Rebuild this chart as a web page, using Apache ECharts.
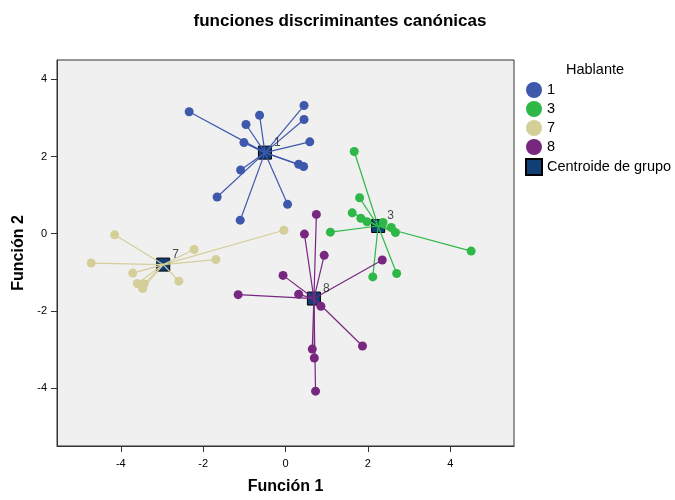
<!DOCTYPE html>
<html><head><meta charset="utf-8">
<script src="https://cdn.jsdelivr.net/npm/echarts@6/dist/echarts.min.js"></script>
<style>html,body{margin:0;padding:0;background:#fff}#c{width:675px;height:500px}</style>
</head><body><div id="c"></div>
<script>
const groupNames = ['1', '3', '7', '8'];
const groupColors = ['#3E58AC', '#2EB848', '#D4CE98', '#782780'];
const centroids = [[-0.50, 2.10], [2.25, 0.20], [-2.97, -0.80], [0.69, -1.68]];
const pts1 = [[-2.34,3.16],[-0.63,3.07],[-0.96,2.83],[0.45,3.32],[0.45,2.96],[-1.01,2.36],[0.59,2.38],[0.32,1.80],[0.44,1.74],[-1.09,1.65],[-1.66,0.95],[0.05,0.76],[-1.10,0.35]];
const pts3 = [[1.67,2.13],[1.80,0.93],[1.62,0.54],[1.83,0.40],[1.98,0.31],[2.37,0.29],[2.57,0.16],[2.67,0.03],[1.09,0.04],[4.51,-0.45],[2.12,-1.12],[2.70,-1.03]];
const pts7 = [[-4.15,-0.03],[-4.72,-0.76],[-2.22,-0.41],[-1.69,-0.67],[-0.04,0.09],[-3.71,-1.02],[-3.60,-1.29],[-3.43,-1.30],[-3.47,-1.42],[-2.59,-1.23]];
const pts8 = [[0.75,0.50],[0.46,-0.01],[0.94,-0.56],[2.35,-0.68],[-0.06,-1.08],[-1.15,-1.58],[0.32,-1.57],[0.86,-1.88],[1.87,-2.91],[0.65,-2.99],[0.70,-3.22],[0.73,-4.08]];
const groupPoints = [pts1, pts3, pts7, pts8];
const xTicks = [-4, -2, 0, 2, 4];
const yTicks = [-4, -2, 0, 2, 4];
const xRange = [-5.55, 5.55];
const yRange = [-5.5, 4.5];
const centroidName = 'Centroide de grupo';

const font = 'Liberation Sans, Arial, sans-serif';
const series = [];
series.push({
  name: centroidName, type: 'scatter', symbol: 'rect', symbolSize: 13, z: 2,
  itemStyle: { color: '#0F3F75', borderColor: '#000', borderWidth: 1, opacity: 1 },
  data: centroids.map((c, i) => [c[0], c[1], groupNames[i]])
});
groupPoints.forEach((pts, i) => {
  series.push({
    name: 'l' + groupNames[i], type: 'lines', coordinateSystem: 'cartesian2d', z: 3, silent: true,
    lineStyle: { color: groupColors[i], width: 1.2, opacity: 1, curveness: 0 },
    data: pts.map(p => ({ coords: [p, centroids[i]] }))
  });
});
groupPoints.forEach((pts, i) => {
  series.push({
    name: groupNames[i], type: 'scatter', symbol: 'circle', symbolSize: 9, z: 4,
    itemStyle: { color: groupColors[i], opacity: 1 },
    data: pts
  });
});
series.push({
  name: 'labels', type: 'scatter', symbolSize: 2, z: 5, silent: true,
  itemStyle: { color: 'rgba(0,0,0,0)' },
  data: centroids.map((c, i) => [c[0], c[1], groupNames[i]]),
  label: { show: true, position: [10, -15], formatter: p => p.data[2],
    color: '#222', fontSize: 12, fontFamily: font },
  labelLayout: { hideOverlap: false }
});

const chart = echarts.init(document.getElementById('c'), null, { renderer: 'canvas' });
chart.setOption({
  animation: false,
  backgroundColor: '#fff',
  title: { text: 'funciones discriminantes canónicas', left: 335, textAlign: 'center', top: 8,
    textStyle: { fontSize: 17, fontWeight: 'bold', color: '#000', fontFamily: font } },
  graphic: [{ type: 'text', left: 566, top: 62, style: { text: 'Hablante', fontSize: 14.5, fill: '#000', font: '14.5px ' + font } }],
  legend: {
    orient: 'vertical', left: 525, top: 82, itemWidth: 16, itemHeight: 16, itemGap: 3, padding: 0,
    data: [
      { name: '1', icon: 'circle' }, { name: '3', icon: 'circle' }, { name: '7', icon: 'circle' }, { name: '8', icon: 'circle' },
      { name: centroidName, icon: 'rect' }
    ],
    textStyle: { fontSize: 14.5, color: '#000', fontFamily: font }
  },
  grid: { left: 57, right: 161, top: 60, bottom: 54, show: true, backgroundColor: '#F0F0F0', borderColor: '#333', borderWidth: 1, outerBoundsMode: 'none' },
  xAxis: {
    type: 'value', min: xRange[0], max: xRange[1],
    name: 'Función 1', nameLocation: 'middle', nameGap: 33,
    nameTextStyle: { fontSize: 16, fontWeight: 'bold', color: '#000', fontFamily: font },
    axisLine: { show: true, onZero: false, lineStyle: { color: '#333', width: 1 } },
    axisTick: { show: true, length: 6, lineStyle: { color: '#333' }, customValues: xTicks },
    axisLabel: { customValues: xTicks, margin: 12, fontSize: 11, color: '#000', fontFamily: font },
    splitLine: { show: false }
  },
  yAxis: {
    type: 'value', min: yRange[0], max: yRange[1],
    name: 'Función 2', nameLocation: 'middle', nameGap: 29, nameRotate: 90,
    nameTextStyle: { fontSize: 16, fontWeight: 'bold', color: '#000', fontFamily: font },
    axisLine: { show: true, onZero: false, lineStyle: { color: '#333', width: 1 } },
    axisTick: { show: true, length: 6, lineStyle: { color: '#333' }, customValues: yTicks },
    axisLabel: { customValues: yTicks, margin: 10, fontSize: 11, color: '#000', fontFamily: font },
    splitLine: { show: false }
  },
  series: series
});
</script></body></html>
